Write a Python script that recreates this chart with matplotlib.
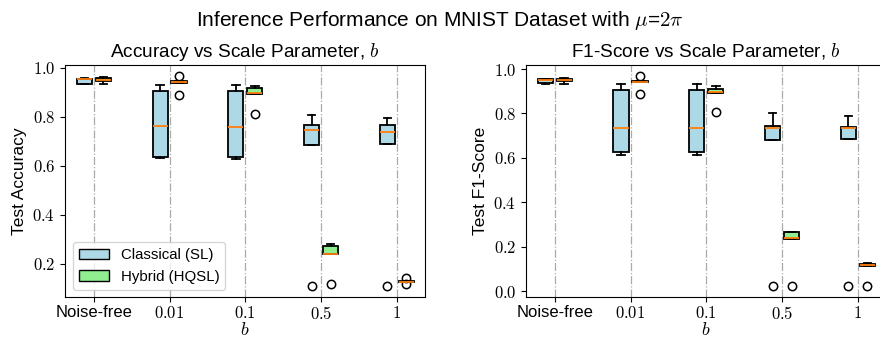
import numpy as np
import matplotlib
matplotlib.use('Agg')
import matplotlib.pyplot as plt
from matplotlib.patches import Patch
from matplotlib.ticker import FuncFormatter

plt.rcParams['font.family'] = ['Liberation Sans', 'DejaVu Sans']
plt.rcParams['mathtext.fontset'] = 'cm'

# noise settings (x axis)
noise_levels = ['Noise-free', '$0.01$', '$0.1$', '$0.5$', '$1$']

# 5 runs per setting
acc_classical = [
    [0.934, 0.935, 0.952, 0.955, 0.956],
    [0.630, 0.637, 0.760, 0.905, 0.931],
    [0.627, 0.637, 0.757, 0.905, 0.931],
    [0.108, 0.686, 0.745, 0.768, 0.806],
    [0.108, 0.689, 0.739, 0.766, 0.795],
]
acc_hybrid = [
    [0.934, 0.945, 0.950, 0.956, 0.962],
    [0.888, 0.938, 0.941, 0.945, 0.967],
    [0.809, 0.893, 0.895, 0.915, 0.926],
    [0.118, 0.240, 0.241, 0.272, 0.281],
    [0.116, 0.127, 0.128, 0.130, 0.143],
]
f1_classical = [
    [0.934, 0.936, 0.951, 0.954, 0.957],
    [0.613, 0.625, 0.735, 0.904, 0.933],
    [0.613, 0.626, 0.733, 0.904, 0.933],
    [0.022, 0.682, 0.736, 0.742, 0.802],
    [0.022, 0.685, 0.736, 0.737, 0.790],
]
f1_hybrid = [
    [0.931, 0.946, 0.951, 0.957, 0.961],
    [0.888, 0.940, 0.942, 0.944, 0.970],
    [0.805, 0.892, 0.895, 0.910, 0.925],
    [0.026, 0.236, 0.238, 0.265, 0.265],
    [0.026, 0.114, 0.117, 0.121, 0.126],
]

fig = plt.figure(figsize=(8.8, 3.38), dpi=100)
ax1 = fig.add_axes([0.0739, 0.1213, 0.409, 0.686])
ax2 = fig.add_axes([0.5977, 0.1213, 0.409, 0.686])


def draw_panel(ax, classical, hybrid, title, ylabel):
    pos = np.arange(len(noise_levels))
    for data, offset, color in [(classical, -0.125, 'lightblue'), (hybrid, 0.125, 'lightgreen')]:
        ax.boxplot(data, positions=pos + offset, widths=0.2, patch_artist=True,
                   boxprops=dict(facecolor=color, edgecolor='black', linewidth=1.3),
                   medianprops=dict(color='#ff7f0e', linewidth=1.3),
                   whiskerprops=dict(color='black', linewidth=1.3),
                   capprops=dict(color='black', linewidth=1.3),
                   flierprops=dict(marker='o', markerfacecolor='none', markeredgecolor='black',
                                   markersize=6, markeredgewidth=1.1))
    ax.set_xticks(pos)
    ax.set_xticklabels(noise_levels, fontsize=12)
    ax.set_xlim(-0.38, len(noise_levels) - 1 + 0.37)
    ax.yaxis.set_major_formatter(FuncFormatter(lambda v, p: '$%.1f$' % v))
    ax.tick_params(axis='y', labelsize=12)
    ax.tick_params(axis='x', pad=2)
    ax.grid(axis='x', linestyle='-.', color='#aaaaaa', linewidth=0.9)
    ax.set_axisbelow(True)
    ax.set_title(title, fontsize=13.7)
    ax.set_xlabel('$b$', fontsize=13, labelpad=0.5)
    ax.set_ylabel(ylabel, fontsize=12.5)


draw_panel(ax1, acc_classical, acc_hybrid, 'Accuracy vs Scale Parameter, $b$', 'Test Accuracy')
draw_panel(ax2, f1_classical, f1_hybrid, 'F1-Score vs Scale Parameter, $b$', 'Test F1-Score')

handles = [Patch(facecolor='lightblue', edgecolor='black', label='Classical (SL)'),
           Patch(facecolor='lightgreen', edgecolor='black', label='Hybrid (HQSL)')]
ax1.legend(handles=handles, loc='lower left', fontsize=10.8)

fig.text(0.5, 0.94, r'Inference Performance on MNIST Dataset with $\mu$=$2\pi$',
         ha='center', va='center', fontsize=15)

fig.savefig('out.png', dpi=100)
